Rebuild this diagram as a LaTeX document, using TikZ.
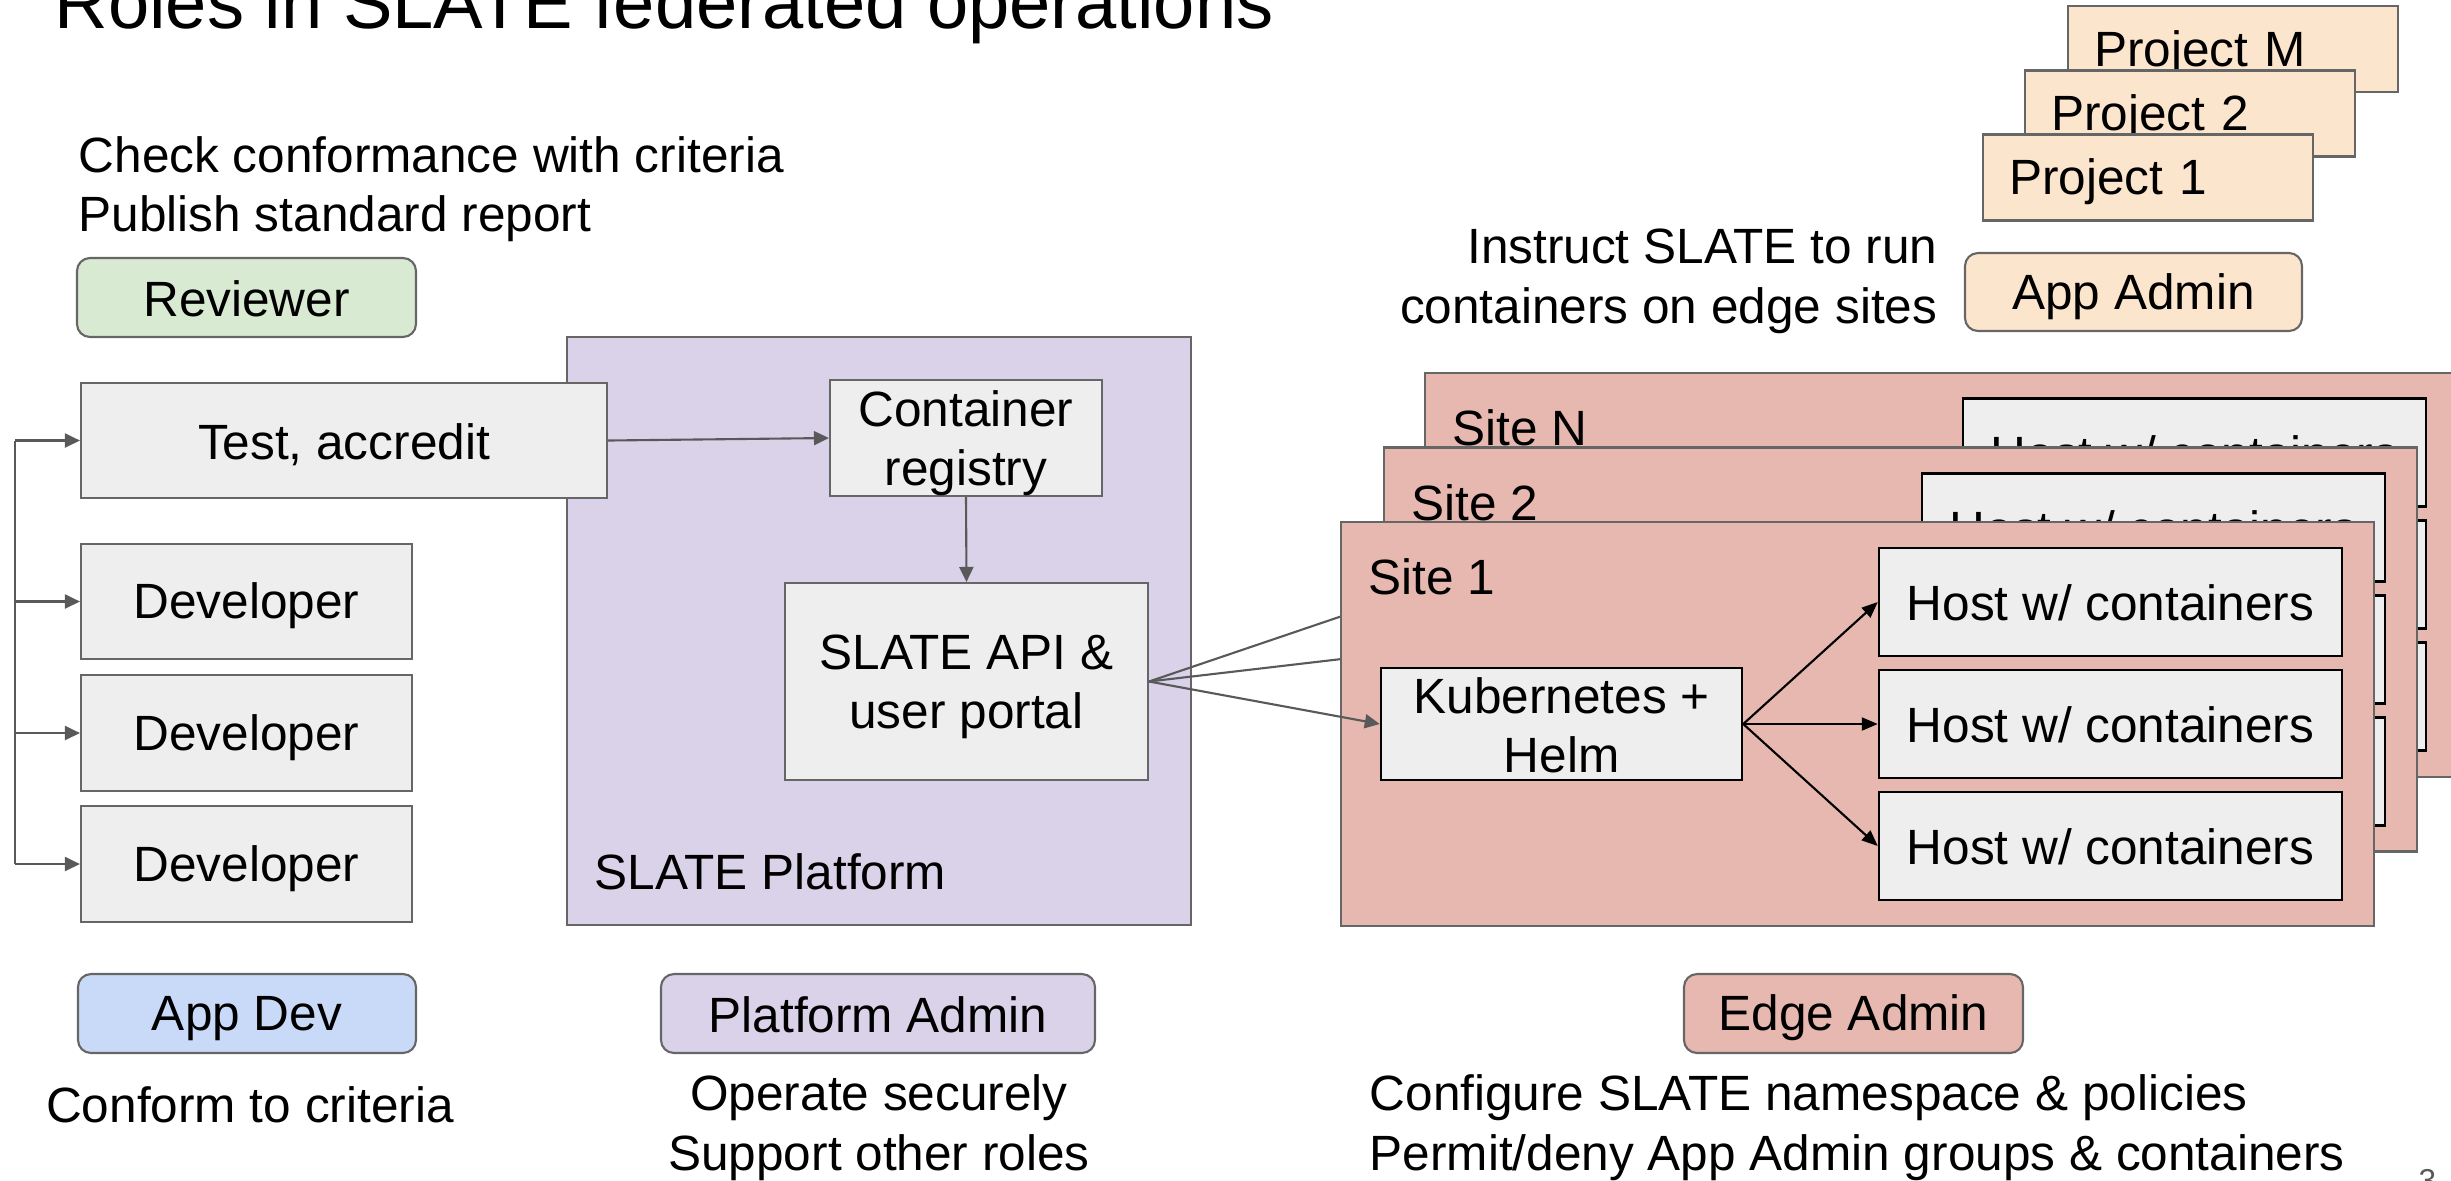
\documentclass[tikz,border=0pt]{standalone}
\usepackage{fontspec}
\setmainfont{Liberation Sans}
\usetikzlibrary{arrows.meta}
\definecolor{boxgray}{HTML}{EEEEEE}
\definecolor{linegray}{HTML}{666666}
\definecolor{arrowgray}{HTML}{595959}
\definecolor{revgreen}{HTML}{D9EAD3}
\definecolor{devblue}{HTML}{C9DAF8}
\definecolor{platpurple}{HTML}{D9D2E9}
\definecolor{edgered}{HTML}{E6B8AF}
\definecolor{apporange}{HTML}{FCE5CD}
\newcommand\bodyfont{\fontsize{14.1}{16.8}\selectfont}
\newcommand\gstrut{\rule[-0.15em]{0pt}{1.05em}}
\newcommand\tstrut{\rule{0pt}{0.92em}}
\tikzset{
  greybox/.style={draw=linegray, line width=0.6pt, fill=boxgray, inner sep=0pt, align=center,
    font=\bodyfont, execute at begin node=\gstrut, execute at end node=\gstrut},
  hostbox/.style={greybox, draw=black, line width=0.7pt},
  rolebox/.style={greybox, rounded corners=1.3mm},
  projbox/.style={greybox, fill=apporange, align=left, text width=27.8mm, inner xsep=2.6mm},
  sitebox/.style={draw=linegray, line width=0.6pt, fill=edgered, inner sep=0pt},
  txt/.style={font=\bodyfont, inner sep=0pt},
  garrow/.style={draw=arrowgray, line width=0.6pt, -{Triangle[length=1.5mm,width=1.4mm]}},
  barrow/.style={draw=black, line width=0.6pt, -{Triangle[length=1.6mm,width=1.3mm]}},
}
\begin{document}
\begin{tikzpicture}[x=1mm,y=-1mm]
  \useasboundingbox (0,0) rectangle (245.1,118);
  \node[anchor=base west, inner sep=0pt, font=\fontsize{21.1}{25}\selectfont] (title) at (5.4,2.8) {Roles in SLATE federated operations};

  \node[txt, anchor=base west] (chk) at (7.8,17.2) {Check conformance with criteria};
  \node[txt, anchor=base west] (pub) at (7.8,23.1) {Publish standard report};
  \node[rolebox, fill=revgreen, minimum width=33.9mm, minimum height=7.9mm] (rev) at (24.65,29.75) {Reviewer};

  \node[projbox, minimum height=8.6mm] (projM) at (223.3,4.9) {Project M};
  \node[projbox, minimum height=8.6mm] (proj2) at (219.0,11.35) {Project 2};
  \node[projbox, minimum height=8.6mm] (proj1) at (214.8,17.75) {Project 1};
  \node[txt, anchor=base east] (ins1) at (193.8,26.3) {Instruct SLATE to run};
  \node[txt, anchor=base east] (ins2) at (193.8,32.3) {containers on edge sites};
  \node[rolebox, fill=apporange, minimum width=33.7mm, minimum height=7.8mm] (appadm) at (213.35,29.2) {App Admin};

  \node[sitebox, fill=platpurple, minimum width=62.4mm, minimum height=58.8mm] (plat) at (87.9,63.1) {};
  \node[txt, anchor=base west] (platlbl) at ([shift={(2.8,-3.7)}]plat.south west) {SLATE Platform};
  \node[greybox, minimum width=27.2mm, minimum height=11.6mm] (reg) at (96.6,43.8) {\tstrut Container\\registry};
  \node[greybox, minimum width=36.3mm, minimum height=19.7mm] (api) at (96.65,68.15) {\tstrut SLATE API \&\\user portal};

  \node[greybox, minimum width=52.6mm, minimum height=11.5mm] (test) at (34.4,44.05) {Test, accredit};
  \node[greybox, minimum width=33.1mm, minimum height=11.55mm] (dev1) at (24.65,60.15) {Developer};
  \node[greybox, minimum width=33.1mm, minimum height=11.55mm] (dev2) at (24.65,73.3) {Developer};
  \node[greybox, minimum width=33.1mm, minimum height=11.55mm] (dev3) at (24.65,86.4) {Developer};
  \coordinate (bus) at (1.5,0);
  \draw[arrowgray, line width=0.6pt] (bus |- test.west) -- (bus |- dev3.west);
  \foreach \n in {test,dev1,dev2,dev3}
    \draw[garrow] (bus |- \n.west) -- (\n.west);
  \draw[garrow] (test.east) -- (reg.west);
  \draw[garrow] (reg.south) -- (api.north);

  \foreach \s/\dx/\dy in {N/8.4/-14.93, 2/4.3/-7.45, 1/0/0} {
    \begin{scope}[shift={(\dx,\dy)}]
      \node[sitebox, minimum width=103.3mm, minimum height=40.4mm] (site\s) at (185.75,72.4) {};
      \node[txt, anchor=base west] (lbl\s) at ([shift={(2.8,7.4)}]site\s.north west) {Site \s};
      \node[hostbox, minimum width=36.1mm, minimum height=10.8mm] (kube\s) at (156.15,72.4) {\tstrut Kubernetes +\\Helm};
      \node[hostbox, minimum width=46.3mm, minimum height=10.8mm] (host\s a) at (211.05,60.2) {Host w/ containers};
      \node[hostbox, minimum width=46.3mm, minimum height=10.8mm] (host\s b) at (211.05,72.4) {Host w/ containers};
      \node[hostbox, minimum width=46.3mm, minimum height=10.8mm] (host\s c) at (211.05,84.6) {Host w/ containers};
      \foreach \h in {a,b,c}
        \draw[barrow] (kube\s.east) -- (host\s\h.west);
    \end{scope}
    \draw[garrow] (api.east) -- (kube\s.west);
  }

  \node[rolebox, fill=devblue, minimum width=33.8mm, minimum height=7.9mm] (appdev) at (24.7,101.35) {App Dev};
  \node[rolebox, fill=platpurple, minimum width=43.4mm, minimum height=7.9mm] (platadm) at (87.8,101.35) {Platform Admin};
  \node[rolebox, fill=edgered, minimum width=33.9mm, minimum height=7.9mm] (edgeadm) at (185.35,101.35) {Edge Admin};
  \node[txt, anchor=base] (conf) at (25.0,112.2) {Conform to criteria};
  \node[txt, anchor=base] (oper) at (87.9,111.0) {Operate securely};
  \node[txt, anchor=base] (supp) at (87.9,117.0) {Support other roles};
  \node[txt, anchor=base west] (cfg) at (136.9,111.0) {Configure SLATE namespace \& policies};
  \node[txt, anchor=base west] (perm) at (136.9,117.0) {Permit/deny App Admin groups \& containers};
  \node[anchor=base west, inner sep=0pt, font=\fontsize{9}{11}\selectfont, text=arrowgray] (pgno) at (241.8,119.1) {3};
\end{tikzpicture}
\end{document}
